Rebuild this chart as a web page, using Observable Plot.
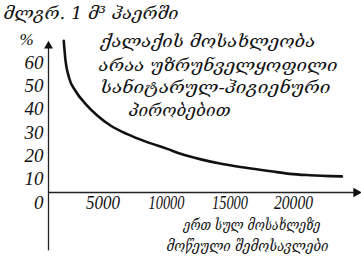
<!DOCTYPE html>
<html>
<head>
<meta charset="utf-8">
<script src="https://cdn.jsdelivr.net/npm/d3@7"></script>
<script src="https://cdn.jsdelivr.net/npm/@observablehq/plot@0.6"></script>
<style>
  html, body { margin: 0; padding: 0; background: #fff; }
  #chart svg { display: block; }
</style>
</head>
<body>
<div id="chart"></div>
<script>
// ---- data ----
const income = [1200, 1340, 1600, 2130, 2910, 3840, 4880, 6200, 7770, 9350, 10400, 12000, 13500, 15100, 17500, 19000, 20600, 22200, 23100];
const share  = [65, 56.5, 49.5, 43.5, 38, 33, 28.7, 25, 21.6, 18.7, 16.6, 14.2, 12.4, 10.9, 9.1, 8, 7.4, 7, 6.9];

const xTicks = [5000, 10000, 15000, 20000];
const yTicks = [0, 10, 20, 30, 40, 50, 60];

const noteLines = [
  "მლგრ. 1 მ³ ჰაერში",
  "ქალაქის მოსახლეობა",
  "არაა უზრუნველყოფილი",
  "სანიტარულ-ჰიგიენური",
  "პირობებით",
  "ერთ სულ მოსახლეზე",
  "მოწეული შემოსავლები"
];
const noteX = [-3540, 4090, 3940, 4090, 6300, 10630, 9290];
const noteY = [76.7, 64.7, 54.4, 45, 35.1, -14.1, -23.1];
const noteW = [175, 215, 239, 230, 102, 137, 162];
const noteSize = [17, 17, 17, 17, 17, 14, 14];
const unitLabel = "%";

const xLabelWidths = [34, 36, 36, 39];

const curveData = income.map((v, i) => ({income: v, share: share[i]}));
const notes = noteLines.map((t, i) => ({t, x: noteX[i], y: noteY[i], s: noteSize[i]}));

const geoFont = "DejaVu Serif";
const numFont = "Liberation Serif";

const plot = Plot.plot({
  width: 361,
  height: 264,
  marginLeft: 48,
  marginRight: 59,
  marginTop: 52,
  marginBottom: 72,
  x: {domain: [0, 20000], axis: null},
  y: {domain: [0, 60], axis: null},
  style: {background: "#fff", color: "#111"},
  marks: [
    Plot.ruleY([0], {x1: 0, x2: 24100, stroke: "#222", strokeWidth: 1.3}),
    Plot.ruleX([0], {y1: -25, y2: 62.5, stroke: "#222", strokeWidth: 1.3}),
    Plot.dot([{x: 24220, y: 0}], {x: "x", y: "y", symbol: "triangle", r: 3.6, fill: "#111", stroke: null, rotate: 90}),
    Plot.dot([{x: 0, y: 62.8}], {x: "x", y: "y", symbol: "triangle", r: 3.3, fill: "#111", stroke: null}),
    Plot.axisX({ticks: xTicks, tickSize: 0, tickPadding: 2.5, dx: -9, fontSize: 19,
      tickFormat: d => String(d), label: null}),
    Plot.axisY({ticks: yTicks, tickSize: 0, tickPadding: 5, dy: 10, fontSize: 19,
      tickFormat: d => String(d), label: null}),
    Plot.line(curveData, {x: "income", y: "share", curve: "monotone-x", stroke: "#111", strokeWidth: 2.6}),
    Plot.text(notes, {x: "x", y: "y", text: "t", fontSize: "s", textAnchor: "start", lineAnchor: "middle",
      fill: "#111"}),
    Plot.text([unitLabel], {x: -1730, y: 65.6, text: d => d, fontSize: 17, fill: "#111"})
  ]
});

document.getElementById("chart").appendChild(plot);

// fonts and widths fitted to the reference
const xLabelStrings = xTicks.map(String);
plot.querySelectorAll("text").forEach(el => {
  const s = el.textContent.trim();
  const ni = noteLines.indexOf(s);
  const xi = xLabelStrings.indexOf(s);
  const fam = ni >= 0 ? geoFont : numFont;
  el.setAttribute("font-family", fam);
  el.setAttribute("font-style", "italic");
  if (ni >= 0) {
    el.setAttribute("textLength", noteW[ni]);
    el.setAttribute("lengthAdjust", "spacingAndGlyphs");
  } else if (xi >= 0) {
    el.setAttribute("textLength", xLabelWidths[xi]);
    el.setAttribute("lengthAdjust", "spacingAndGlyphs");
  }
});
</script>
</body>
</html>
